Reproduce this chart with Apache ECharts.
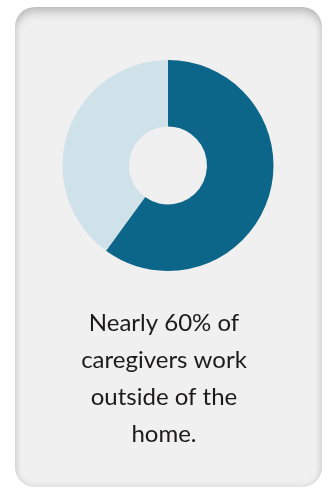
<!DOCTYPE html>
<html>
<head>
<meta charset="utf-8">
<script src="https://cdn.jsdelivr.net/npm/echarts@6/dist/echarts.min.js"></script>
<style>
  html, body { margin: 0; padding: 0; background: #ffffff; }
  #card {
    position: absolute; left: 15px; top: 7px; width: 307px; height: 480px;
    border-radius: 20px; background: #f0f0f0;
    box-shadow: inset 0 8px 10px -2px rgba(0,0,0,0.17), inset 0 0 7px rgba(0,0,0,0.12);
  }
  #chart { position: absolute; left: 0; top: 0; width: 328px; height: 490px; }
</style>
</head>
<body>
<div id="card"></div>
<div id="chart"></div>
<script>
const categories = ['Work outside the home', 'Do not work outside the home'];
const values = [60, 40];
const colors = ['#0b6689', '#cfe1e9'];
const captionLines = ['Nearly 60% of', 'caregivers work', 'outside of the', 'home.'];

const chart = echarts.init(document.getElementById('chart'), null, { renderer: 'canvas' });
chart.setOption({
  backgroundColor: 'transparent',
  animation: false,
  title: {
    text: captionLines.join('\n'),
    left: 'center',
    top: 300,
    padding: 5,
    textStyle: {
      fontFamily: 'Lato',
      fontSize: 24,
      fontWeight: 'normal',
      color: '#1c1a1b',
      lineHeight: 37
    }
  },
  series: [{
    type: 'pie',
    center: [168, 165.5],
    radius: [39, 105.5],
    startAngle: 90,
    clockwise: true,
    silent: true,
    label: { show: false },
    labelLine: { show: false },
    itemStyle: { borderWidth: 0 },
    data: categories.map((c, i) => ({ name: c, value: values[i], itemStyle: { color: colors[i] } }))
  }]
});
</script>
</body>
</html>
